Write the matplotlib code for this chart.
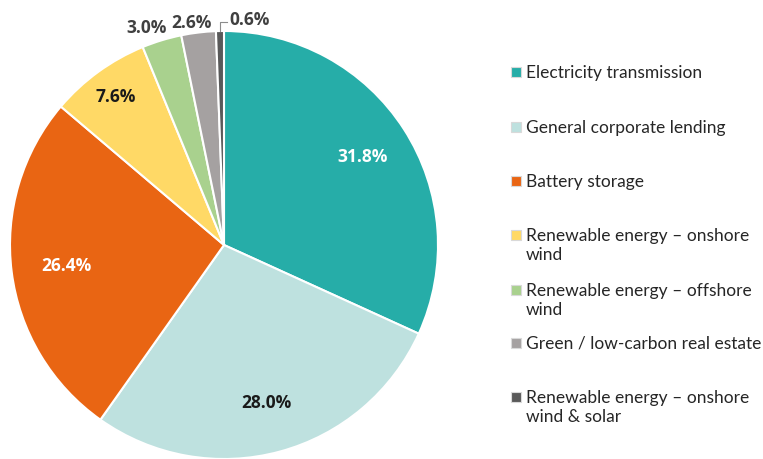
import matplotlib
matplotlib.use("Agg")
import matplotlib.pyplot as plt
from matplotlib.patches import Rectangle
import numpy as np

categories = [
    "Electricity transmission",
    "General corporate lending",
    "Battery storage",
    "Renewable energy \u2013 onshore\nwind",
    "Renewable energy \u2013 offshore\nwind",
    "Green / low-carbon real estate",
    "Renewable energy \u2013 onshore\nwind & solar",
]
shares = [31.8, 28.0, 26.4, 7.6, 3.0, 2.6, 0.6]
colors = ["#26ADA8", "#BEE1DF", "#E96513", "#FFD966", "#A9D18E", "#A5A1A1", "#595959"]
label_colors = ["white", "#1a1a1a", "white", "#1a1a1a", "#404040", "#404040", "#404040"]

W, H = 763, 460
fig = plt.figure(figsize=(W / 100, H / 100), dpi=100)

cx, cy, r = 224, 246, 214
ax = fig.add_axes([(cx - r) / W, 1 - (cy + r) / H, 2 * r / W, 2 * r / H])
wedges, _ = ax.pie(
    shares, colors=colors, startangle=90, counterclock=False,
    wedgeprops=dict(edgecolor="white", linewidth=1.5),
)
ax.set_xlim(-1, 1)
ax.set_ylim(-1, 1)
ax.set_aspect("equal")

label_font = dict(fontsize=12.5, fontweight="bold", family="Open Sans")

# inside labels: radial fraction along the slice's mid angle
inside_r = {0: 0.77, 1: 0.76, 2: 0.74, 3: 0.86}
# outside labels for the thin slices: (x, y) in pie units
outside_xy = {4: (-0.36, 1.02), 5: (-0.15, 1.04)}

total = sum(shares)
cum = 0
for i, v in enumerate(shares):
    mid = np.deg2rad(90 - (cum + v / 2) / total * 360)
    cum += v
    txt = f"{v:.1f}%"
    if i in inside_r:
        rr = inside_r[i]
        ax.text(rr * np.cos(mid), rr * np.sin(mid), txt, ha="center", va="center",
                color=label_colors[i], **label_font)
    elif i in outside_xy:
        x, y = outside_xy[i]
        ax.text(x, y, txt, ha="center", va="center", color=label_colors[i],
                clip_on=False, **label_font)
    else:
        x0, y0 = np.cos(mid), np.sin(mid)
        ax.plot([x0, x0, x0 + 0.035], [y0, 1.04, 1.04], color="#8c8c8c", lw=0.8,
                clip_on=False)
        ax.text(x0 + 0.042, 1.055, txt, ha="left", va="center", color=label_colors[i],
                clip_on=False, **label_font)

# legend
legend_y = [73, 128, 182, 236, 291, 344, 398]
for c, lab, y in zip(colors, categories, legend_y):
    fig.patches.append(Rectangle((511 / W, 1 - (y + 5) / H), 10 / W, 10 / H,
                                 transform=fig.transFigure, facecolor=c,
                                 edgecolor="#d9d9d9", linewidth=0.8))
    fig.text(526 / W, 1 - (y - 8) / H, lab, ha="left", va="top", fontsize=12.5,
             color="#262626", family="Lato", linespacing=1.25)

fig.savefig("out.png", dpi=100)
